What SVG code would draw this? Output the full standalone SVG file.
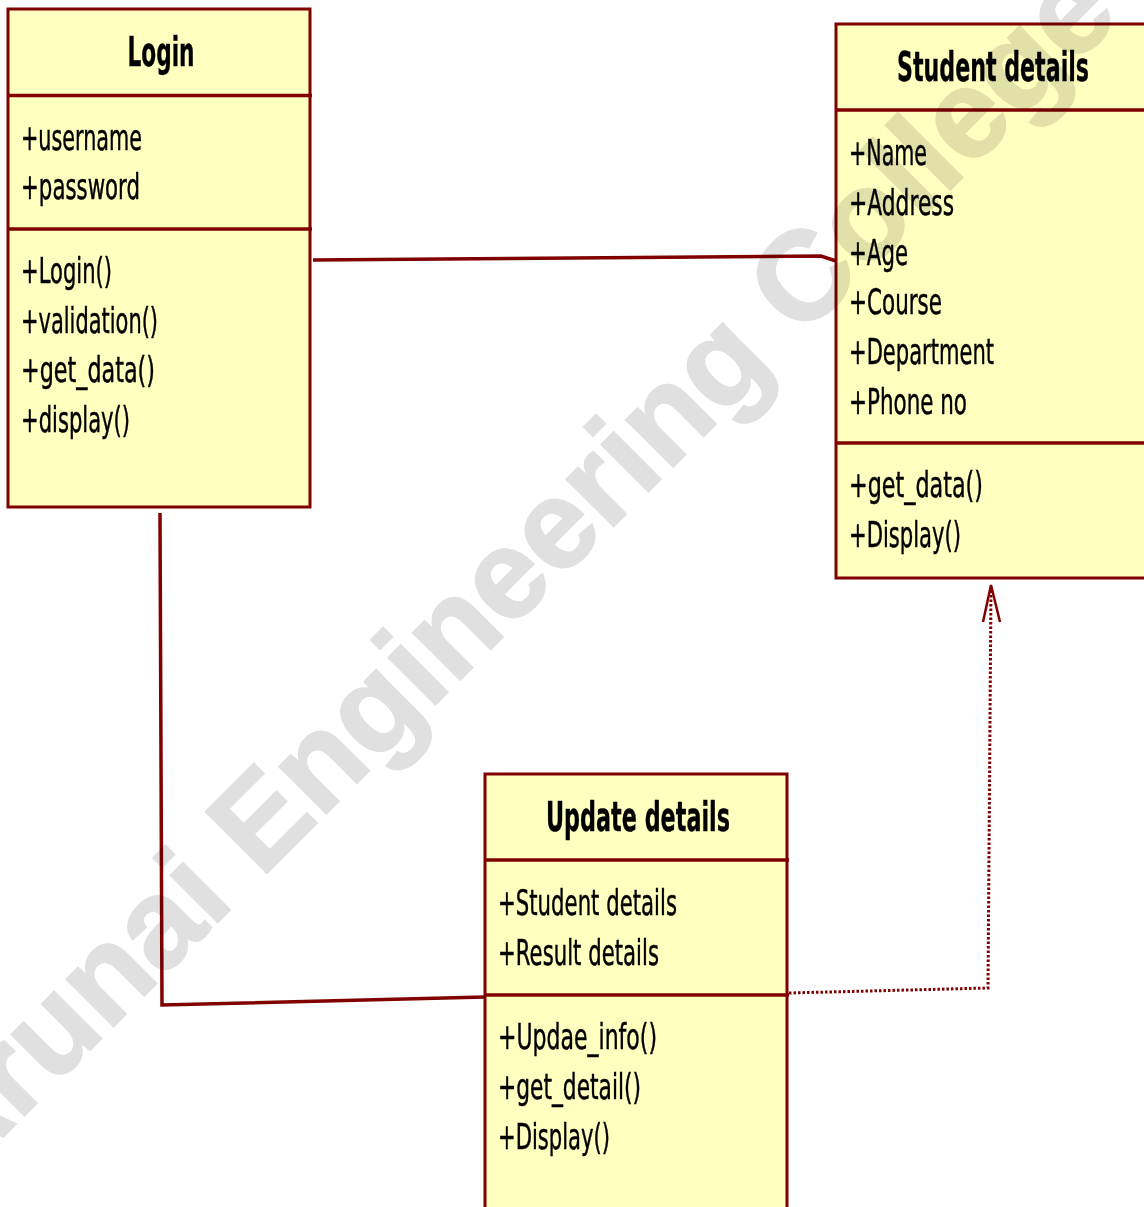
<svg xmlns="http://www.w3.org/2000/svg" width="1144" height="1207" viewBox="0 0 1144 1207">
  <defs>
    <style>
      .box { fill: #ffffc0; stroke: #800000; stroke-width: 3; }
      .div { stroke: #800000; stroke-width: 3.5; fill: none; }
      .title { font-family: "DejaVu Sans", "Liberation Sans", sans-serif; font-weight: bold; font-size: 41px; fill: #000; stroke: #000; stroke-width: 0.4; text-anchor: middle; }
      .mem { font-family: "DejaVu Sans", "Liberation Sans", sans-serif; font-size: 36px; fill: #000; stroke: #000; stroke-width: 0.5; }
      .assoc { stroke: #800000; stroke-width: 3.5; fill: none; stroke-linejoin: miter; }
      .dep { stroke: #800000; stroke-width: 3; fill: none; stroke-dasharray: 2.5 2; }
      .head { stroke: #800000; stroke-width: 2.5; fill: none; }
      .mark { font-family: "Liberation Sans", Arial, sans-serif; font-weight: bold; font-size: 126px; fill: #e0e0e0; stroke: #e0e0e0; stroke-width: 2; mix-blend-mode: multiply; }
    </style>
  </defs>

  <rect width="1144" height="1207" fill="#ffffff"/>

  <!-- Login class -->
  <g id="login">
    <rect class="box" x="8" y="9" width="302" height="498"/>
    <line class="div" x1="8" y1="95.5" x2="312" y2="95.5"/>
    <line class="div" x1="8" y1="229" x2="312" y2="229"/>
    <text class="title" x="161" y="66" textLength="67" lengthAdjust="spacingAndGlyphs">Login</text>
    <text class="mem" x="21" y="150" textLength="121" lengthAdjust="spacingAndGlyphs">+username</text>
    <text class="mem" x="21" y="199" textLength="119" lengthAdjust="spacingAndGlyphs">+password</text>
    <text class="mem" x="21" y="283" textLength="91" lengthAdjust="spacingAndGlyphs">+Login()</text>
    <text class="mem" x="21" y="333" textLength="137" lengthAdjust="spacingAndGlyphs">+validation()</text>
    <text class="mem" x="21" y="382" textLength="134" lengthAdjust="spacingAndGlyphs">+get_data()</text>
    <text class="mem" x="21" y="432" textLength="109" lengthAdjust="spacingAndGlyphs">+display()</text>
  </g>

  <!-- Student details class -->
  <g id="student-details">
    <rect class="box" x="836" y="24" width="330" height="554"/>
    <line class="div" x1="836" y1="110" x2="1160" y2="110"/>
    <line class="div" x1="836" y1="443" x2="1160" y2="443"/>
    <text class="title" x="993" y="81" textLength="192" lengthAdjust="spacingAndGlyphs">Student details</text>
    <text class="mem" x="849" y="165" textLength="78" lengthAdjust="spacingAndGlyphs">+Name</text>
    <text class="mem" x="849" y="215" textLength="105" lengthAdjust="spacingAndGlyphs">+Address</text>
    <text class="mem" x="849" y="265" textLength="59" lengthAdjust="spacingAndGlyphs">+Age</text>
    <text class="mem" x="849" y="314" textLength="93" lengthAdjust="spacingAndGlyphs">+Course</text>
    <text class="mem" x="849" y="364" textLength="145" lengthAdjust="spacingAndGlyphs">+Department</text>
    <text class="mem" x="849" y="414" textLength="118" lengthAdjust="spacingAndGlyphs">+Phone no</text>
    <text class="mem" x="849" y="497" textLength="134" lengthAdjust="spacingAndGlyphs">+get_data()</text>
    <text class="mem" x="849" y="547" textLength="112" lengthAdjust="spacingAndGlyphs">+Display()</text>
  </g>

  <!-- Update details class -->
  <g id="update-details">
    <rect class="box" x="485" y="774" width="302" height="450"/>
    <line class="div" x1="485" y1="860" x2="789" y2="860"/>
    <line class="div" x1="485" y1="995" x2="789" y2="995"/>
    <text class="title" x="638" y="831" textLength="184" lengthAdjust="spacingAndGlyphs">Update details</text>
    <text class="mem" x="498" y="915" textLength="179" lengthAdjust="spacingAndGlyphs">+Student details</text>
    <text class="mem" x="498" y="965" textLength="161" lengthAdjust="spacingAndGlyphs">+Result details</text>
    <text class="mem" x="498" y="1049" textLength="159" lengthAdjust="spacingAndGlyphs">+Updae_info()</text>
    <text class="mem" x="498" y="1099" textLength="143" lengthAdjust="spacingAndGlyphs">+get_detail()</text>
    <text class="mem" x="498" y="1149" textLength="112" lengthAdjust="spacingAndGlyphs">+Display()</text>
  </g>

  <!-- Connectors -->
  <g id="connectors">
    <polyline class="assoc" points="313,260 821,256 836,261"/>
    <polyline class="assoc" points="160,513 162,1005 485,997"/>
    <polyline class="dep" points="789,993 988,988 991,588"/>
    <polyline class="head" points="983,622 991,585 1000,622"/>
  </g>

  <!-- Watermark -->
  <text class="mark" transform="translate(-46,1186) rotate(-45)">Arunai Engineering College</text>
</svg>
